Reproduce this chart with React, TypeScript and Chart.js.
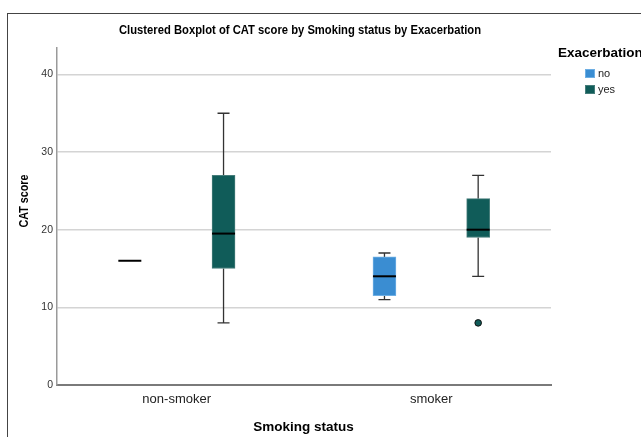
import React, { useEffect, useRef } from "react";
import { Chart, registerables } from "chart.js";

Chart.register(...registerables);

// ---- data ----
const categories = ["non-smoker", "smoker"];
const seriesNames = ["no", "yes"];
const yTickValues = [0, 10, 20, 30, 40];

const noMin = [16, 11];
const noQ1 = [16, 11.5];
const noMedian = [16, 14];
const noQ3 = [16, 16.5];
const noMax = [16, 17];
const noOutliers: number[][] = [[], []];

const yesMin = [8, 14];
const yesQ1 = [15, 19];
const yesMedian = [19.5, 20];
const yesQ3 = [27, 24];
const yesMax = [35, 27];
const yesOutliers: number[][] = [[], [8]];

const chartTitle = "Clustered Boxplot of CAT score by Smoking status by Exacerbation";
const xTitle = "Smoking status";
const yTitle = "CAT score";
const legendTitle = "Exacerbation";

// ---- style ----
const FONT = "'Liberation Sans', Arial, sans-serif";
const COLORS = ["rgb(58,141,210)", "rgb(16,92,89)"];
const BORDERS = ["rgb(110,175,228)", "rgb(70,125,122)"];
const OFFSETS = [-0.184, 0.184];
const BOX_W = 23;
const CAP_W = 12;

const series = [
  { min: noMin, q1: noQ1, med: noMedian, q3: noQ3, max: noMax, out: noOutliers },
  { min: yesMin, q1: yesQ1, med: yesMedian, q3: yesQ3, max: yesMax, out: yesOutliers },
];

function squeezedText(ctx: any, text: string, x: number, y: number, width: number, rot = 0) {
  ctx.save();
  ctx.translate(x, y);
  if (rot) ctx.rotate(rot);
  const w = ctx.measureText(text).width;
  ctx.scale(Math.min(1, width / w), 1);
  ctx.fillText(text, 0, 0);
  ctx.restore();
}

const whiskerPlugin = {
  id: "whiskers",
  beforeDatasetsDraw(chart: any) {
    const { ctx, scales } = chart;
    const xs = scales.x, ys = scales.y;
    ctx.save();
    ctx.strokeStyle = "#333";
    ctx.lineWidth = 1.3;
    series.forEach((s, si) => {
      categories.forEach((_, i) => {
        const x = xs.getPixelForValue(i + 1 + OFFSETS[si]);
        const pMin = ys.getPixelForValue(s.min[i]);
        const pMax = ys.getPixelForValue(s.max[i]);
        const pQ1 = ys.getPixelForValue(s.q1[i]);
        const pQ3 = ys.getPixelForValue(s.q3[i]);
        if (s.max[i] === s.min[i]) return;
        ctx.beginPath();
        ctx.moveTo(x, pMin);
        ctx.lineTo(x, pQ1);
        ctx.moveTo(x, pQ3);
        ctx.lineTo(x, pMax);
        ctx.moveTo(x - CAP_W / 2, pMin);
        ctx.lineTo(x + CAP_W / 2, pMin);
        ctx.moveTo(x - CAP_W / 2, pMax);
        ctx.lineTo(x + CAP_W / 2, pMax);
        ctx.stroke();
      });
    });
    ctx.restore();
  },
  afterDatasetsDraw(chart: any) {
    const { ctx, scales } = chart;
    const xs = scales.x, ys = scales.y;
    ctx.save();
    ctx.strokeStyle = "#000";
    ctx.lineWidth = 2;
    series.forEach((s, si) => {
      categories.forEach((_, i) => {
        const x = xs.getPixelForValue(i + 1 + OFFSETS[si]);
        const p = ys.getPixelForValue(s.med[i]);
        ctx.beginPath();
        ctx.moveTo(x - BOX_W / 2, p);
        ctx.lineTo(x + BOX_W / 2, p);
        ctx.stroke();
      });
    });
    ctx.restore();
  },
  afterDraw(chart: any) {
    const { ctx } = chart;
    ctx.save();
    // outer frame
    ctx.strokeStyle = "#444";
    ctx.lineWidth = 1;
    ctx.strokeRect(7.5, 13.5, 800, 600);
    ctx.fillStyle = "#000";
    ctx.textAlign = "center";
    ctx.textBaseline = "middle";
    // chart title
    ctx.font = `bold 13px ${FONT}`;
    squeezedText(ctx, chartTitle, 300, 30, 362);
    // x title
    ctx.font = `bold 13.5px ${FONT}`;
    squeezedText(ctx, xTitle, 303.5, 427, 102);
    // y title
    ctx.font = `bold 13px ${FONT}`;
    squeezedText(ctx, yTitle, 24, 201, 53, -Math.PI / 2);
    // legend
    ctx.textAlign = "left";
    ctx.font = `bold 13.5px ${FONT}`;
    ctx.fillText(legendTitle, 558, 53);
    ctx.font = `11px ${FONT}`;
    seriesNames.forEach((name, i) => {
      const y = 69 + i * 16;
      ctx.fillStyle = COLORS[i];
      ctx.fillRect(585, y, 10, 9);
      ctx.strokeStyle = BORDERS[i];
      ctx.strokeRect(585.5, y + 0.5, 9, 8);
      ctx.fillStyle = "#222";
      ctx.fillText(name, 598, y + 4.5);
    });
    ctx.restore();
  },
};

export default function App() {
  const ref = useRef<HTMLCanvasElement>(null);
  useEffect(() => {
    if (!ref.current) return;
    const datasets: any[] = series.map((s, si) => ({
      type: "bar",
      label: seriesNames[si],
      data: categories.map((_, i) => ({ x: i + 1 + OFFSETS[si], y: [s.q1[i], s.q3[i]] })),
      backgroundColor: COLORS[si],
      borderColor: BORDERS[si],
      borderWidth: 1,
      borderSkipped: false,
      barThickness: BOX_W,
      grouped: false,
    }));
    series.forEach((s, si) => {
      const pts: any[] = [];
      categories.forEach((_, i) => s.out[i].forEach((v) => pts.push({ x: i + 1 + OFFSETS[si], y: v })));
      if (pts.length)
        datasets.push({
          type: "scatter",
          label: seriesNames[si] + " outliers",
          data: pts,
          pointRadius: 3.3,
          pointBackgroundColor: COLORS[si],
          pointBorderColor: "#111",
          pointBorderWidth: 1,
        });
    });
    const chart = new Chart(ref.current, {
      type: "bar",
      data: { datasets },
      plugins: [whiskerPlugin],
      options: {
        animation: false,
        responsive: false,
        events: [],
        layout: { padding: { top: 48, right: 90, left: 0, bottom: 0 } },
        plugins: { legend: { display: false }, title: { display: false }, tooltip: { enabled: false } },
        scales: {
          x: {
            type: "linear",
            min: 0.53,
            max: 2.47,
            offset: false,
            afterBuildTicks: (scale: any) => {
              scale.ticks = categories.map((_, i) => ({ value: i + 1 }));
            },
            afterFit: (scale: any) => {
              scale.height = 52;
            },
            ticks: {
              autoSkip: false,
              maxRotation: 0,
              padding: 7,
              color: "#222",
              font: { family: FONT, size: 13 },
              callback: (v: any) => categories[Math.round(Number(v)) - 1] ?? "",
            },
            grid: { display: false, drawTicks: false },
            border: { display: true, color: "#7a7a7a", width: 2 },
          },
          y: {
            type: "linear",
            min: 0,
            max: 43.4,
            afterFit: (scale: any) => {
              scale.width = 57;
            },
            afterBuildTicks: (scale: any) => {
              scale.ticks = yTickValues.map((v) => ({ value: v }));
            },
            ticks: {
              padding: 4,
              color: "#333",
              font: { family: FONT, size: 10.5 },
            },
            grid: { color: "#d4d4d4", lineWidth: 1.5, drawTicks: false },
            border: { display: true, color: "#9a9a9a", width: 1.5 },
          },
        },
      } as any,
    });
    return () => chart.destroy();
  }, []);
  return (
    <div style={{ position: "absolute", left: 0, top: 0, width: 641, height: 437, background: "#fff" }}>
      <canvas ref={ref} width={641} height={437} style={{ width: 641, height: 437, display: "block" }} />
    </div>
  );
}
